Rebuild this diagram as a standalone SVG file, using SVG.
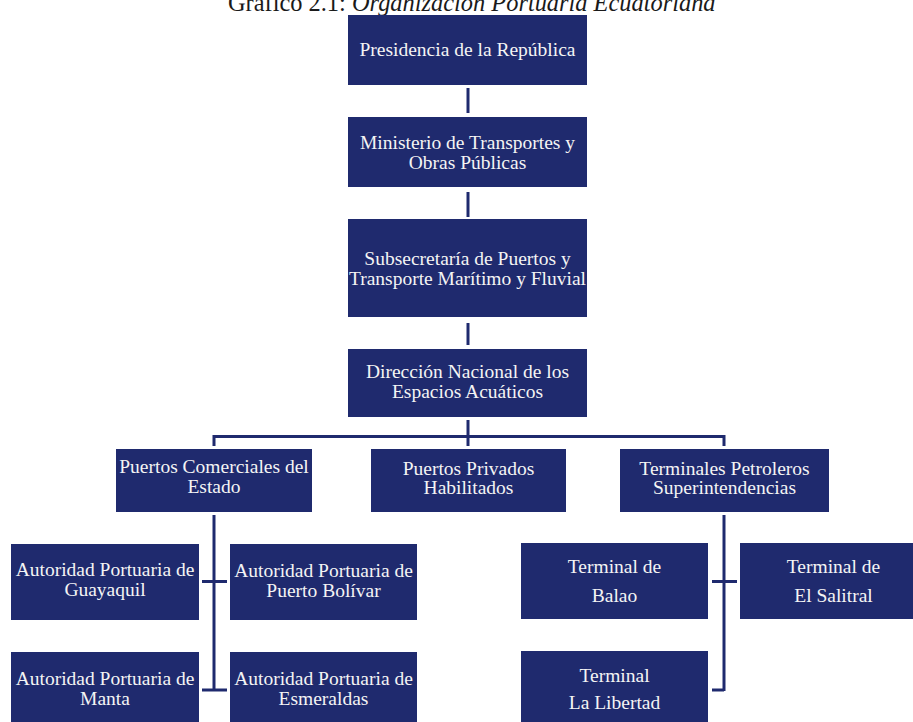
<svg xmlns="http://www.w3.org/2000/svg" width="913" height="722" viewBox="0 0 913 722">
  <style>
    .box { fill: #1F2A6E; }
    .t { font-family: "Liberation Serif", "Times New Roman", serif; font-size: 19.5px; fill: #F4F4F4; text-anchor: middle; }
    .title { font-family: "Liberation Serif", "Times New Roman", serif; font-size: 24.4px; fill: #1a1a1a; }
    .c { stroke: #1F2A6E; stroke-width: 3; fill: none; }
  </style>
  <rect width="913" height="722" fill="#FFFFFF"/>
  <text class="title" x="228" y="11">Gráfico 2.1: <tspan font-style="italic">Organización Portuaria Ecuatoriana</tspan></text>

  <g id="connectors">
    <line class="c" x1="468" y1="88" x2="468" y2="113"/>
    <line class="c" x1="468" y1="192" x2="468" y2="217"/>
    <line class="c" x1="468" y1="323" x2="468" y2="345"/>
    <line class="c" x1="468" y1="420" x2="468" y2="446"/>
    <path class="c" d="M214,446 V436.5 H724 V446"/>
    <line class="c" x1="214" y1="515" x2="214" y2="691"/>
    <line class="c" x1="202" y1="581.5" x2="227" y2="581.5"/>
    <line class="c" x1="202" y1="690" x2="227" y2="690"/>
    <line class="c" x1="724" y1="515" x2="724" y2="691"/>
    <line class="c" x1="712" y1="581.5" x2="737" y2="581.5"/>
    <line class="c" x1="712" y1="690" x2="724" y2="690"/>
  </g>

  <g id="presidencia">
    <rect class="box" x="348" y="15" width="239" height="70"/>
    <text class="t" x="467.5" y="56">Presidencia de la República</text>
  </g>
  <g id="ministerio">
    <rect class="box" x="348" y="117" width="239" height="70"/>
    <text class="t" x="467.5" y="149">Ministerio de Transportes y</text>
    <text class="t" x="467.5" y="169">Obras Públicas</text>
  </g>
  <g id="subsecretaria">
    <rect class="box" x="348" y="219" width="239" height="98"/>
    <text class="t" x="467.5" y="265">Subsecretaría de Puertos y</text>
    <text class="t" x="467.5" y="285">Transporte Marítimo y Fluvial</text>
  </g>
  <g id="direccion">
    <rect class="box" x="348" y="349" width="239" height="68"/>
    <text class="t" x="467.5" y="378">Dirección Nacional de los</text>
    <text class="t" x="467.5" y="398">Espacios Acuáticos</text>
  </g>

  <g id="puertos-comerciales">
    <rect class="box" x="116" y="449" width="196" height="63"/>
    <text class="t" x="214" y="473">Puertos Comerciales del</text>
    <text class="t" x="214" y="493">Estado</text>
  </g>
  <g id="puertos-privados">
    <rect class="box" x="371" y="449" width="195" height="63"/>
    <text class="t" x="468.5" y="475">Puertos Privados</text>
    <text class="t" x="468.5" y="494">Habilitados</text>
  </g>
  <g id="terminales-petroleros">
    <rect class="box" x="620" y="449" width="209" height="63"/>
    <text class="t" x="724.5" y="475">Terminales Petroleros</text>
    <text class="t" x="724.5" y="494">Superintendencias</text>
  </g>

  <g id="ap-guayaquil">
    <rect class="box" x="11" y="544" width="188" height="76"/>
    <text class="t" x="105" y="576">Autoridad Portuaria de</text>
    <text class="t" x="105" y="596">Guayaquil</text>
  </g>
  <g id="ap-puerto-bolivar">
    <rect class="box" x="230" y="544" width="187" height="76"/>
    <text class="t" x="323.5" y="577">Autoridad Portuaria de</text>
    <text class="t" x="323.5" y="597">Puerto Bolívar</text>
  </g>
  <g id="ap-manta">
    <rect class="box" x="11" y="652" width="188" height="76"/>
    <text class="t" x="105" y="685">Autoridad Portuaria de</text>
    <text class="t" x="105" y="705">Manta</text>
  </g>
  <g id="ap-esmeraldas">
    <rect class="box" x="230" y="652" width="187" height="76"/>
    <text class="t" x="323.5" y="685">Autoridad Portuaria de</text>
    <text class="t" x="323.5" y="705">Esmeraldas</text>
  </g>

  <g id="terminal-balao">
    <rect class="box" x="521" y="543" width="187" height="76"/>
    <text class="t" x="614.5" y="573">Terminal de</text>
    <text class="t" x="614.5" y="602">Balao</text>
  </g>
  <g id="terminal-el-salitral">
    <rect class="box" x="740" y="543" width="187" height="76"/>
    <text class="t" x="833.5" y="573">Terminal de</text>
    <text class="t" x="833.5" y="602">El Salitral</text>
  </g>
  <g id="terminal-la-libertad">
    <rect class="box" x="521" y="651" width="187" height="76"/>
    <text class="t" x="614.5" y="682">Terminal</text>
    <text class="t" x="614.5" y="709">La Libertad</text>
  </g>
</svg>
